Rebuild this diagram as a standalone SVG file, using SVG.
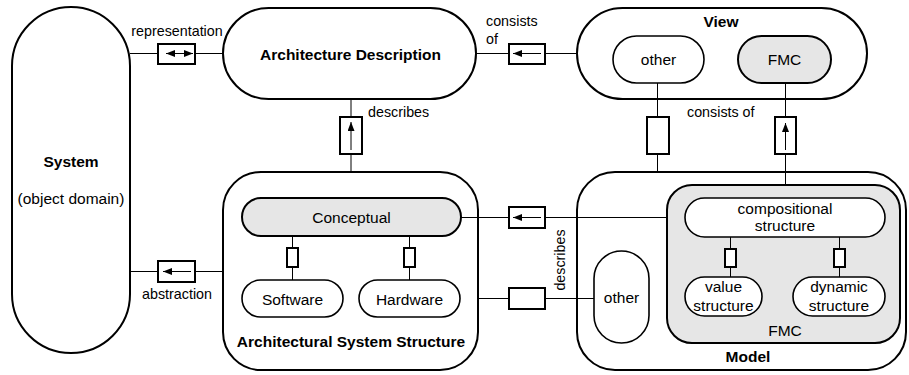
<svg xmlns="http://www.w3.org/2000/svg" width="909" height="375" viewBox="0 0 909 375">
<defs>
<style>
.n{fill:#fff;stroke:#000;stroke-width:2}
.g{fill:#e6e6e6;stroke:#000;stroke-width:2}
.s{fill:#fff;stroke:#000;stroke-width:1.6}
.ln{fill:none;stroke:#000;stroke-width:1}
.cb{fill:#fff;stroke:#000;stroke-width:2}
.ar{fill:none;stroke:#000;stroke-width:1;marker-end:url(#ah)}
.ar2{fill:none;stroke:#000;stroke-width:1;marker-end:url(#ah);marker-start:url(#ah)}
text{font-family:"Liberation Sans",Arial,Helvetica,sans-serif;fill:#000}
.t{font-size:15.5px;text-anchor:middle}
.b{font-size:15.5px;font-weight:bold;text-anchor:middle}
.c{font-size:14.3px}
</style>
<marker id="ah" markerUnits="userSpaceOnUse" markerWidth="10" markerHeight="8" refX="9" refY="3.5" orient="auto-start-reverse">
<path d="M0,0 L9,3.5 L0,7 Z" fill="#000"/>
</marker>
</defs>

<g id="system">
<rect class="n" x="12" y="7" width="118" height="346" rx="59"/>
<text class="b" x="71" y="167">System</text>
<text class="t" x="71" y="204">(object domain)</text>
</g>

<g id="architecture-description">
<rect class="n" x="223" y="8" width="253" height="91" rx="45.5"/>
<text class="b" x="350.5" y="59.5">Architecture Description</text>
</g>

<g id="view">
<rect class="n" x="577" y="8" width="290" height="91" rx="45.5"/>
<text class="b" x="721" y="27">View</text>
</g>
<g id="view-other">
<rect class="s" x="613" y="36" width="91" height="47" rx="23.5"/>
<text class="t" x="658.5" y="65">other</text>
</g>
<g id="view-fmc">
<rect class="g" x="738" y="36" width="93" height="47" rx="23.5"/>
<text class="t" x="784.5" y="65">FMC</text>
</g>

<g id="architectural-system-structure">
<rect class="n" x="223" y="172" width="255" height="198" rx="38"/>
<text class="b" x="351" y="347">Architectural System Structure</text>
</g>
<g id="conceptual">
<rect class="g" x="242" y="198" width="219" height="38" rx="19"/>
<text class="t" x="351.5" y="222.5">Conceptual</text>
</g>
<g id="software">
<rect class="s" x="242" y="280" width="101" height="37" rx="18.5"/>
<text class="t" x="292.5" y="304.5">Software</text>
</g>
<g id="hardware">
<rect class="s" x="359" y="280" width="101" height="37" rx="18.5"/>
<text class="t" x="409.5" y="304.5">Hardware</text>
</g>

<g id="model">
<rect class="n" x="577" y="172" width="329" height="198" rx="38"/>
<text class="b" x="748" y="362">Model</text>
</g>
<g id="model-other">
<rect class="s" x="594" y="251" width="55" height="92" rx="27.5"/>
<text class="t" x="621.5" y="303">other</text>
</g>
<g id="model-fmc">
<rect class="g" x="667" y="185" width="233" height="158" rx="25"/>
<text class="t" x="785" y="336">FMC</text>
</g>
<g id="compositional-structure">
<rect class="s" x="685" y="198" width="200" height="39" rx="19.5"/>
<text class="t" x="785" y="213.5">compositional</text>
<text class="t" x="785" y="231">structure</text>
</g>
<g id="value-structure">
<rect class="s" x="685" y="277" width="77" height="39" rx="19.5"/>
<text class="t" x="723.5" y="292">value</text>
<text class="t" x="723.5" y="311">structure</text>
</g>
<g id="dynamic-structure">
<rect class="s" x="793" y="277" width="92" height="39" rx="19.5"/>
<text class="t" x="839" y="292">dynamic</text>
<text class="t" x="839" y="311">structure</text>
</g>

<g id="connectors">
<line class="ln" x1="130" y1="53.5" x2="223" y2="53.5"/>
<rect class="cb" x="158" y="44" width="37" height="20"/>
<path class="ar2" d="M166,53.5 H193"/>
<text class="c" x="177" y="36" text-anchor="middle">representation</text>

<line class="ln" x1="476" y1="53.5" x2="577" y2="53.5"/>
<rect class="cb" x="509" y="44" width="36" height="20"/>
<path class="ar" d="M541,53.5 H513"/>
<text class="c" x="486" y="26">consists</text>
<text class="c" x="486" y="44">of</text>

<line class="ln" x1="351" y1="99" x2="351" y2="172"/>
<rect class="cb" x="340" y="117" width="22" height="37"/>
<path class="ar" d="M351,150 V122"/>
<text class="c" x="368" y="117">describes</text>

<line class="ln" x1="657.5" y1="83" x2="657.5" y2="172"/>
<rect class="cb" x="647" y="117" width="22" height="37"/>
<line class="ln" x1="785.5" y1="83" x2="785.5" y2="185"/>
<rect class="cb" x="775" y="117" width="21" height="37"/>
<path class="ar" d="M785.5,150 V123"/>
<text class="c" x="687" y="117">consists of</text>

<line class="ln" x1="130" y1="271.5" x2="223" y2="271.5"/>
<rect class="cb" x="158" y="261" width="37" height="21"/>
<path class="ar" d="M191,271.5 H163"/>
<text class="c" x="177" y="299" text-anchor="middle">abstraction</text>

<line class="ln" x1="461" y1="217.5" x2="667" y2="217.5"/>
<rect class="cb" x="509" y="207" width="36" height="21"/>
<path class="ar" d="M541,217.5 H513"/>

<line class="ln" x1="478" y1="298.5" x2="594" y2="298.5"/>
<rect class="cb" x="509" y="288" width="36" height="21"/>
<text class="c" transform="translate(565,260) rotate(-90)" text-anchor="middle">describes</text>

<line class="ln" x1="292.5" y1="236" x2="292.5" y2="280"/>
<rect class="cb" x="287" y="248" width="11" height="19"/>
<line class="ln" x1="409.5" y1="236" x2="409.5" y2="280"/>
<rect class="cb" x="404" y="248" width="11" height="19"/>

<line class="ln" x1="730.5" y1="237" x2="730.5" y2="277"/>
<rect class="cb" x="725" y="249" width="11" height="18"/>
<line class="ln" x1="839.5" y1="237" x2="839.5" y2="277"/>
<rect class="cb" x="834" y="249" width="11" height="18"/>
</g>
</svg>
